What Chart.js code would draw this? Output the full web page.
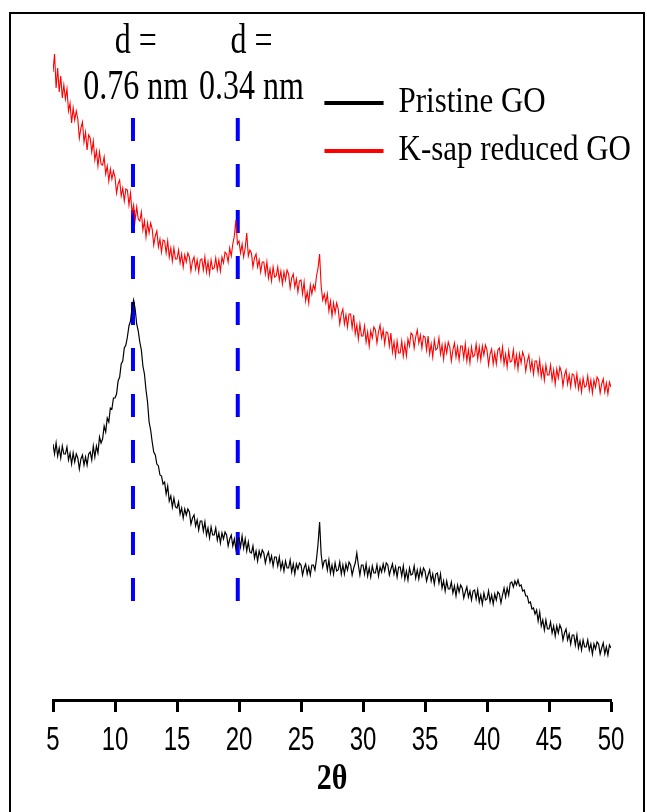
<!DOCTYPE html>
<html>
<head>
<meta charset="utf-8">
<script src="https://cdn.jsdelivr.net/npm/chart.js@4/dist/chart.umd.min.js"></script>
<style>
  html, body { margin: 0; padding: 0; background: #ffffff; }
  #c { display: block; }
</style>
</head>
<body>
<canvas id="c" width="647" height="812"></canvas>
<script>
// ---- Data (2θ in degrees, intensity in arbitrary units) ----
const xTicks = [5, 10, 15, 20, 25, 30, 35, 40, 45, 50];
const seriesNames = ["Pristine GO", "K-sap reduced GO"];

const twoTheta = [
  5,5.125,5.25,5.375,5.5,5.625,5.75,5.875,
  6,6.125,6.25,6.375,6.5,6.625,6.75,6.875,
  7,7.125,7.25,7.375,7.5,7.625,7.75,7.875,
  8,8.125,8.25,8.375,8.5,8.625,8.75,8.875,
  9,9.125,9.25,9.375,9.5,9.625,9.75,9.875,
  10,10.125,10.25,10.375,10.5,10.625,10.75,10.875,
  11,11.125,11.25,11.375,11.5,11.625,11.75,11.875,
  12,12.125,12.25,12.375,12.5,12.625,12.75,12.875,
  13,13.125,13.25,13.375,13.5,13.625,13.75,13.875,
  14,14.125,14.25,14.375,14.5,14.625,14.75,14.875,
  15,15.125,15.25,15.375,15.5,15.625,15.75,15.875,
  16,16.125,16.25,16.375,16.5,16.625,16.75,16.875,
  17,17.125,17.25,17.375,17.5,17.625,17.75,17.875,
  18,18.125,18.25,18.375,18.5,18.625,18.75,18.875,
  19,19.125,19.25,19.375,19.5,19.625,19.75,19.875,
  20,20.125,20.25,20.375,20.5,20.625,20.75,20.875,
  21,21.125,21.25,21.375,21.5,21.625,21.75,21.875,
  22,22.125,22.25,22.375,22.5,22.625,22.75,22.875,
  23,23.125,23.25,23.375,23.5,23.625,23.75,23.875,
  24,24.125,24.25,24.375,24.5,24.625,24.75,24.875,
  25,25.125,25.25,25.375,25.5,25.625,25.75,25.875,
  26,26.125,26.25,26.375,26.5,26.625,26.75,26.875,
  27,27.125,27.25,27.375,27.5,27.625,27.75,27.875,
  28,28.125,28.25,28.375,28.5,28.625,28.75,28.875,
  29,29.125,29.25,29.375,29.5,29.625,29.75,29.875,
  30,30.125,30.25,30.375,30.5,30.625,30.75,30.875,
  31,31.125,31.25,31.375,31.5,31.625,31.75,31.875,
  32,32.125,32.25,32.375,32.5,32.625,32.75,32.875,
  33,33.125,33.25,33.375,33.5,33.625,33.75,33.875,
  34,34.125,34.25,34.375,34.5,34.625,34.75,34.875,
  35,35.125,35.25,35.375,35.5,35.625,35.75,35.875,
  36,36.125,36.25,36.375,36.5,36.625,36.75,36.875,
  37,37.125,37.25,37.375,37.5,37.625,37.75,37.875,
  38,38.125,38.25,38.375,38.5,38.625,38.75,38.875,
  39,39.125,39.25,39.375,39.5,39.625,39.75,39.875,
  40,40.125,40.25,40.375,40.5,40.625,40.75,40.875,
  41,41.125,41.25,41.375,41.5,41.625,41.75,41.875,
  42,42.125,42.25,42.375,42.5,42.625,42.75,42.875,
  43,43.125,43.25,43.375,43.5,43.625,43.75,43.875,
  44,44.125,44.25,44.375,44.5,44.625,44.75,44.875,
  45,45.125,45.25,45.375,45.5,45.625,45.75,45.875,
  46,46.125,46.25,46.375,46.5,46.625,46.75,46.875,
  47,47.125,47.25,47.375,47.5,47.625,47.75,47.875,
  48,48.125,48.25,48.375,48.5,48.625,48.75,48.875,
  49,49.125,49.25,49.375,49.5,49.625,49.75,49.875,
  50
];

// K-sap reduced GO (red trace)
const reducedGO = [
  628,646,612,632,608,624,602,615,
  601,611,589,597,577,592,580,589,
  581,562,572,578,558,568,550,565,
  562,548,559,540,549,534,548,536,
  535,543,526,534,519,531,521,529,
  523,507,516,520,504,512,499,511,
  510,495,507,487,495,480,493,481,
  479,488,470,479,463,477,467,477,
  471,455,464,469,453,461,448,460,
  459,447,459,443,452,439,452,441,
  441,450,437,446,433,445,438,447,
  443,429,439,443,431,440,428,440,
  441,430,443,428,438,426,440,431,
  432,442,430,440,429,443,437,448,
  446,438,452,444,456,464,480,456,
  459,447,456,443,452,467,444,450,
  447,433,442,446,433,440,428,438,
  438,426,438,422,431,419,433,423,
  424,433,420,429,416,428,420,430,
  426,412,422,426,413,421,408,419,
  420,406,418,399,408,397,415,406,
  415,410,424,432,446,414,400,406,
  397,406,389,399,384,397,387,397,
  391,376,386,391,376,385,373,386,
  386,372,385,366,375,361,376,364,
  364,374,358,368,354,369,362,373,
  370,357,368,375,362,370,356,368,
  367,354,367,348,358,344,359,347,
  347,359,344,356,344,361,354,367,
  365,352,363,370,357,365,352,364,
  363,350,364,346,356,343,360,350,
  352,362,346,355,341,356,347,358,
  353,339,350,357,343,353,340,354,
  354,342,356,339,350,337,353,343,
  345,356,341,353,340,354,345,355,
  350,335,346,351,336,347,336,350,
  352,340,353,336,346,333,349,338,
  339,350,334,345,331,346,337,348,
  343,329,339,345,330,339,326,339,
  339,327,340,323,333,320,335,325,
  325,335,320,330,316,331,322,333,
  328,314,325,330,316,325,313,326,
  325,314,326,311,320,308,322,313,
  314,324,310,320,307,320,313,323,
  320,307,316,321,308,317,306,318,
  313
];

// Pristine GO (black trace)
const pristineGO = [
  256,246,257,244,252,242,254,246,
  246,253,240,247,236,247,238,246,
  242,231,241,245,235,243,235,246,
  248,240,254,243,254,247,263,257,
  261,274,268,282,278,292,291,302,
  302,306,319,323,336,339,352,355,
  363,374,379,392,400,391,376,369,
  358,350,334,326,310,298,278,270,
  258,248,245,236,234,225,224,216,
  218,206,214,199,204,193,202,193,
  192,198,186,192,182,191,185,191,
  188,176,182,185,174,180,170,179,
  179,169,178,165,172,162,173,165,
  165,172,160,167,157,167,161,168,
  165,154,161,165,154,161,151,161,
  162,153,164,152,161,149,158,148,
  147,154,142,149,139,149,143,150,
  147,137,144,148,138,144,134,143,
  143,134,143,131,138,129,139,132,
  132,140,128,136,126,136,131,137,
  135,125,132,136,126,133,125,135,
  135,130,141,156,178,146,133,139,
  140,130,140,127,135,126,137,129,
  130,138,126,135,126,136,130,138,
  135,125,132,137,147,135,125,135,
  135,126,136,124,132,123,134,127,
  127,135,124,133,128,136,129,137,
  135,125,131,136,126,133,123,133,
  133,124,134,121,129,120,132,125,
  126,134,122,130,121,131,124,132,
  129,119,125,130,119,126,116,126,
  127,117,126,112,119,109,119,111,
  111,118,107,114,104,115,108,115,
  112,102,108,113,103,109,100,109,
  110,101,110,98,105,96,107,100,
  101,109,98,105,96,106,100,108,
  106,97,105,112,103,112,105,117,
  118,113,119,115,120,114,115,109,
  110,104,104,97,98,91,92,86,
  90,79,88,74,80,70,80,71,
  71,78,67,74,64,74,67,75,
  71,60,67,71,60,66,56,65,
  65,55,65,52,59,50,60,53,
  53,60,50,56,46,56,51,58,
  56,46,52,57,46,53,45,55,
  52
];

// d-spacing markers (2θ of the dashed lines, their extent, label positions and text)
const markerX = [11.45, 19.9];
const markerTop = [582, 582];
const markerBottom = [97, 97];
const markerLabelX = [11.67, 21.0];
const markerLine1 = ["d =", "d ="];
const markerLine2 = ["0.76 nm", "0.34 nm"];

const toPoints = (xs, ys) => xs.map((x, i) => ({ x: x, y: ys[i] }));

// ---- vertical text stretch (the source figure's lettering is tall and narrow) ----
const canvas = document.getElementById("c");
const ctx2d = canvas.getContext("2d");
const stretchBySize = { "24": 1.4, "31": 1.13, "30": 1.2, "32": 1.3 };
const nativeFillText = ctx2d.fillText.bind(ctx2d);
ctx2d.fillText = function (text, x, y, maxWidth) {
  const m = /(\d+(?:\.\d+)?)px/.exec(this.font || "");
  const k = m && stretchBySize[m[1]] ? stretchBySize[m[1]] : 1;
  if (k === 1) {
    return maxWidth === undefined ? nativeFillText(text, x, y) : nativeFillText(text, x, y, maxWidth);
  }
  this.save();
  this.translate(x, y);
  this.scale(1, k);
  if (maxWidth === undefined) nativeFillText(text, 0, 0); else nativeFillText(text, 0, 0, maxWidth);
  this.restore();
};

const datasets = [
  {
    label: seriesNames[0],
    data: toPoints(twoTheta, pristineGO),
    borderColor: "#000000",
    backgroundColor: "#000000",
    borderWidth: 1.2,
    pointRadius: 0,
    tension: 0,
    fill: false
  },
  {
    label: seriesNames[1],
    data: toPoints(twoTheta, reducedGO),
    borderColor: "#ff0000",
    backgroundColor: "#ff0000",
    borderWidth: 1.1,
    pointRadius: 0,
    tension: 0,
    fill: false
  }
];
markerX.forEach((mx, i) => {
  datasets.push({
    label: "marker" + i,
    data: [{ x: mx, y: markerTop[i] }, { x: mx, y: markerBottom[i] }],
    borderColor: "#0000ff",
    backgroundColor: "#0000ff",
    borderWidth: 4,
    borderDash: [23, 23],
    borderCapStyle: "butt",
    pointRadius: 0,
    fill: false
  });
});

const legendPlacer = {
  id: "legendPlacer",
  afterLayout(chart) {
    const lg = chart.legend;
    if (lg) {
      lg.left = 308;
      lg.top = 70.5;
      lg.right = 646;
      lg.bottom = 220;
    }
  }
};

const annotations = {
  id: "annotations",
  afterDraw(chart) {
    const ctx = chart.ctx;
    const xs = chart.scales.x;
    ctx.save();
    ctx.fillStyle = "#000000";
    ctx.font = '32px "Liberation Serif", "Times New Roman", serif';
    ctx.textAlign = "center";
    ctx.textBaseline = "alphabetic";
    markerLabelX.forEach((lx, i) => {
      const px = xs.getPixelForValue(lx);
      ctx.fillText(markerLine1[i], px, 53);
      ctx.fillText(markerLine2[i], px, 99);
    });
    // outer frame of the figure
    ctx.strokeStyle = "#000000";
    ctx.lineWidth = 2;
    ctx.strokeRect(10, 13, 634, 830);
    ctx.restore();
  }
};

new Chart(canvas, {
  type: "line",
  data: { datasets: datasets },
  options: {
    responsive: false,
    animation: false,
    devicePixelRatio: 1,
    layout: { padding: { left: 53, right: 36, top: 40, bottom: 14 } },
    plugins: {
      legend: {
        position: "chartArea",
        align: "start",
        labels: {
          color: "#000000",
          font: { family: '"Liberation Serif", "Times New Roman", serif', size: 31 },
          boxWidth: 58,
          boxHeight: 3,
          padding: 17,
          filter: (item) => item.datasetIndex < 2
        }
      },
      tooltip: { enabled: false }
    },
    scales: {
      x: {
        type: "linear",
        position: "bottom",
        min: 5,
        max: 50,
        afterBuildTicks: (axis) => { axis.ticks = xTicks.map(v => ({ value: v })); },
        afterFit: (axis) => { axis.height = 98; },
        border: { display: true, color: "#000000", width: 3 },
        grid: {
          display: true,
          drawOnChartArea: false,
          drawTicks: true,
          tickLength: 12,
          tickWidth: 3,
          tickColor: "#000000"
        },
        ticks: {
          color: "#000000",
          padding: 14.6,
          maxRotation: 0,
          autoSkip: false,
          font: { family: '"Liberation Sans", Arial, sans-serif', size: 24 }
        },
        title: {
          display: true,
          text: "2θ",
          color: "#000000",
          padding: { top: 0, bottom: 0 },
          font: { family: '"Liberation Serif", "Times New Roman", serif', size: 30, weight: "bold" }
        }
      },
      y: {
        type: "linear",
        display: false,
        min: 0,
        max: 660
      }
    }
  },
  plugins: [legendPlacer, annotations]
});
</script>
</body>
</html>
